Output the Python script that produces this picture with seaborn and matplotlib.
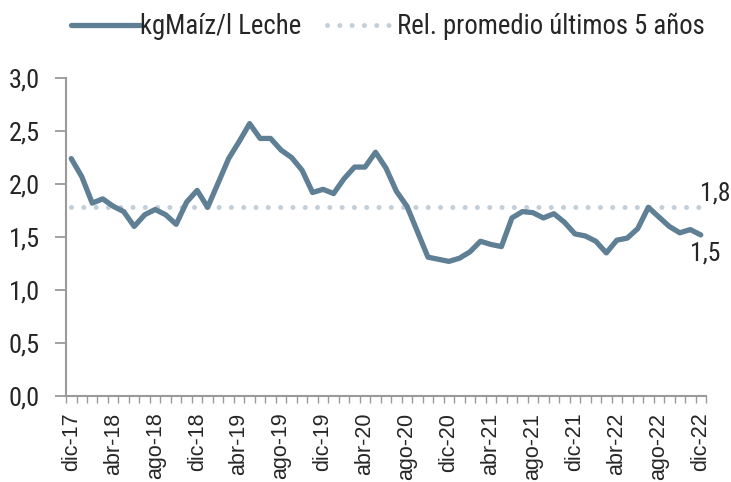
import numpy as np
import pandas as pd
import seaborn as sns
from matplotlib import pyplot as plt

# Relación kg de maíz por litro de leche, mensual dic-17 a dic-22
abrev = ["ene", "feb", "mar", "abr", "may", "jun",
         "jul", "ago", "sep", "oct", "nov", "dic"]
meses = ["dic-17"] + [f"{m}-{a}" for a in range(18, 23) for m in abrev]

relacion = [2.24, 2.07, 1.82, 1.86, 1.79, 1.74, 1.60, 1.71, 1.76, 1.71,
            1.62, 1.83, 1.94, 1.78, 2.01, 2.24, 2.40, 2.57, 2.43, 2.43,
            2.32, 2.25, 2.13, 1.92, 1.95, 1.91, 2.05, 2.16, 2.16, 2.30,
            2.15, 1.93, 1.79, 1.55, 1.31, 1.29, 1.27, 1.30, 1.36, 1.46,
            1.43, 1.41, 1.68, 1.74, 1.73, 1.68, 1.72, 1.64, 1.53, 1.51,
            1.46, 1.35, 1.47, 1.49, 1.58, 1.78, 1.69, 1.60, 1.54, 1.57,
            1.52]
promedio_5 = 1.786

tick_labels = ["dic-17", "abr-18", "ago-18", "dic-18", "abr-19", "ago-19",
               "dic-19", "abr-20", "ago-20", "dic-20", "abr-21", "ago-21",
               "dic-21", "abr-22", "ago-22", "dic-22"]

df = pd.DataFrame({"mes": meses, "pos": range(len(meses)),
                   "relacion": relacion,
                   "promedio": [promedio_5] * len(meses)})

sns.set_style("white")
plt.rcParams["font.family"] = ["Roboto Condensed", "Liberation Sans Narrow",
                               "Roboto", "DejaVu Sans"]

line_col = "#5f7f95"
dot_col = "#c3cfd9"
axis_col = "#9a9a9a"

fig = plt.figure(figsize=(7.31, 4.82), dpi=100)
ax = fig.add_axes([0.0903, 0.1784, 0.8755, 0.6597])

sns.lineplot(data=df, x="pos", y="promedio", ax=ax, color=dot_col,
             linewidth=3.6, linestyle=(0, (0.01, 2.45)),
             dash_capstyle="round", label="Rel. promedio últimos 5 años")
sns.lineplot(data=df, x="pos", y="relacion", ax=ax, color=line_col,
             linewidth=3.8, solid_joinstyle="round", solid_capstyle="round",
             label="kgMaíz/l Leche")

ax.set_xlim(-0.5, len(meses) - 0.5)
ax.set_ylim(0, 3.0)
ax.set_xlabel("")
ax.set_ylabel("")

# y axis with comma decimals
yt = np.arange(0, 3.01, 0.5)
ax.set_yticks(yt)
ax.set_yticklabels([f"{v:.1f}".replace(".", ",") for v in yt], fontsize=19)
ax.tick_params(axis="y", direction="out", length=8, width=1.3,
               color=axis_col, pad=11, left=True)

# x axis: labels every 4 months, ticks between months
pos_labels = [meses.index(t) for t in tick_labels]
ax.set_xticks(pos_labels)
ax.set_xticklabels(tick_labels, rotation=90, fontsize=15.5,
                   family="Liberation Sans")
ax.set_xticks(np.arange(-0.5, len(meses), 1), minor=True)
ax.tick_params(axis="x", which="major", length=0, pad=12)
ax.tick_params(axis="x", which="minor", direction="out", length=5,
               width=1.0, color=axis_col, bottom=True)

for side in ["top", "right"]:
    ax.spines[side].set_visible(False)
for side in ["left", "bottom"]:
    ax.spines[side].set_color(axis_col)
    ax.spines[side].set_linewidth(1.5)

# data labels
ax.text(len(meses) - 1.1, promedio_5 + 0.01, "1,8", fontsize=18.5,
        ha="left", va="bottom", clip_on=False)
ax.text(len(meses) - 2.0, relacion[-1] - 0.06, "1,5", fontsize=18.5,
        ha="left", va="top", clip_on=False)

handles, labels = ax.get_legend_handles_labels()
ax.legend(handles[::-1], labels[::-1], ncol=2, fontsize=19.3, frameon=False,
          loc="center", bbox_to_anchor=(0.530, 0.945),
          bbox_transform=fig.transFigure, handlelength=2.6,
          handletextpad=0.0, columnspacing=0.95)

fig.savefig("out.png", dpi=100)
